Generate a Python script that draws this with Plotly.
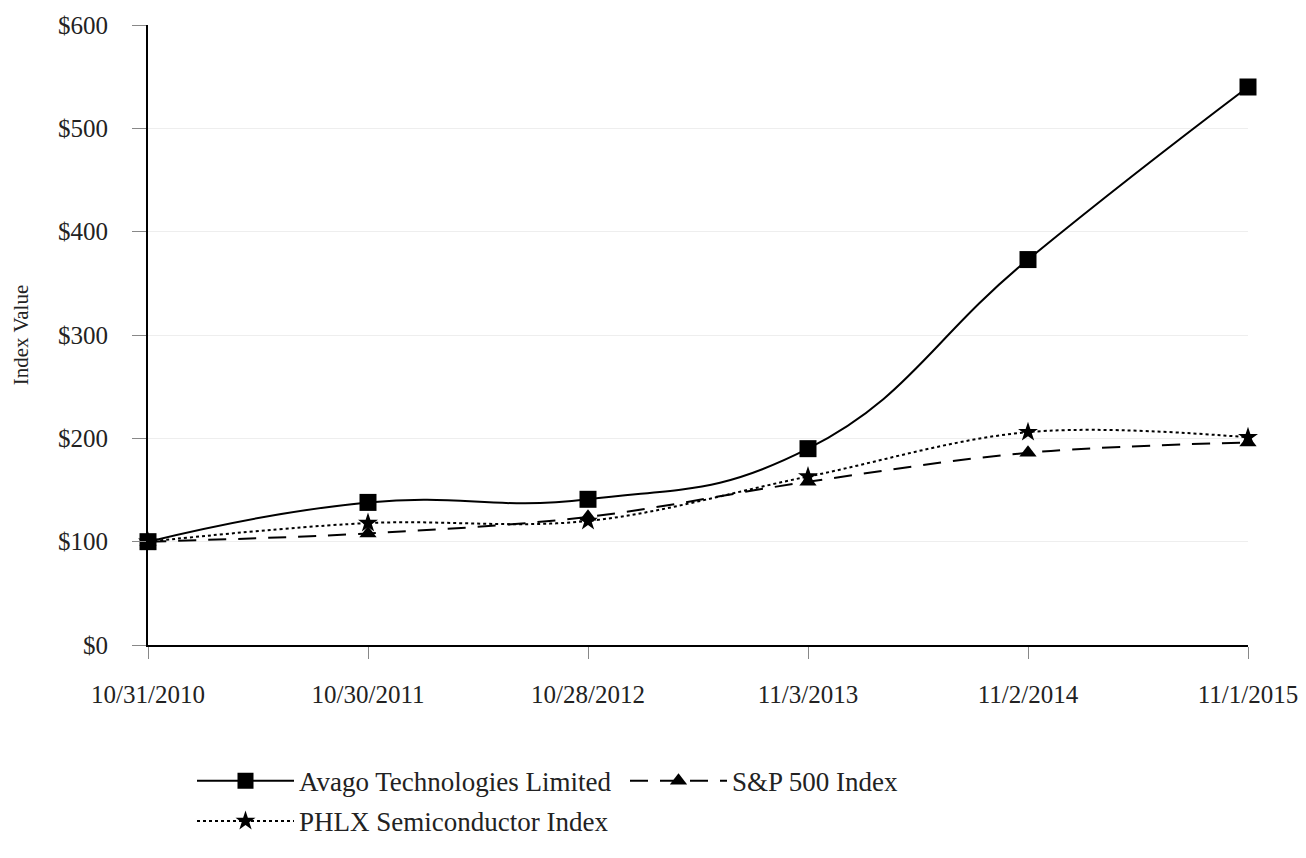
import plotly.graph_objects as go

dates = ["10/31/2010", "10/30/2011", "10/28/2012", "11/3/2013", "11/2/2014", "11/1/2015"]
avago = [100, 138, 141, 190, 373, 540]
sp500 = [100, 108, 124, 158, 186, 196]
phlx = [100, 118, 120, 163, 206, 201]
y_ticks = [0, 100, 200, 300, 400, 500, 600]
y_labels = ["$" + str(v) for v in y_ticks]

xs = list(range(len(dates)))
font = "Liberation Serif, Times New Roman, serif"
fs = 25
lfs = 27

fig = go.Figure()
fig.add_trace(go.Scatter(
    x=xs, y=avago, name="Avago Technologies Limited", mode="lines+markers",
    line=dict(color="black", width=2, shape="spline", smoothing=1.3),
    marker=dict(symbol="square", size=17, color="black"),
    cliponaxis=False, legend="legend"))
fig.add_trace(go.Scatter(
    x=xs, y=sp500, name="S&P 500 Index", mode="lines+markers",
    line=dict(color="black", width=2, dash="18px,12px", shape="spline", smoothing=1.0),
    marker=dict(symbol="triangle-up", size=15, color="black"),
    cliponaxis=False, legend="legend"))
fig.add_trace(go.Scatter(
    x=xs, y=phlx, name="PHLX Semiconductor Index", mode="lines+markers",
    line=dict(color="black", width=2, dash="dot", shape="spline", smoothing=1.0),
    marker=dict(symbol="star", size=15, color="black"),
    cliponaxis=False, legend="legend2"))

fig.update_layout(
    width=1298, height=850,
    margin=dict(l=140, r=58, t=17, b=207),
    paper_bgcolor="white", plot_bgcolor="white",
    font=dict(family=font, size=fs, color="#222"),
    xaxis=dict(
        range=[0, 5], tickvals=xs, ticktext=dates, automargin=False,
        showgrid=False, zeroline=False,
        showline=True, linecolor="black", linewidth=2,
        ticks="outside", ticklen=12, tickcolor="#888", tickwidth=1,
        ticklabelstandoff=14,
        tickfont=dict(size=fs, family=font, color="#222"),
    ),
    yaxis=dict(
        range=[0, 600], tickvals=y_ticks, ticktext=y_labels, automargin=False,
        showgrid=True, gridcolor="#eeeeee", gridwidth=1, zeroline=False,
        showline=True, linecolor="black", linewidth=2,
        ticks="outside", ticklen=14, tickcolor="#888", tickwidth=1,
        ticklabelstandoff=19,
        tickfont=dict(size=fs, family=font, color="#222"),
        title=dict(text="Index Value", font=dict(size=21, family=font, color="#222"), standoff=24),
    ),
    legend=dict(
        orientation="h", x=0.04, xanchor="left", y=-0.18, yanchor="top",
        font=dict(size=lfs, family=font, color="#222"), itemwidth=97,
        entrywidth=321, entrywidthmode="pixels",
        bgcolor="rgba(0,0,0,0)",
    ),
    legend2=dict(
        orientation="h", x=0.04, xanchor="left", y=-0.245, yanchor="top",
        font=dict(size=lfs, family=font, color="#222"), itemwidth=97,
        bgcolor="rgba(0,0,0,0)",
    ),
    showlegend=True,
)

fig.write_html("out.html")
